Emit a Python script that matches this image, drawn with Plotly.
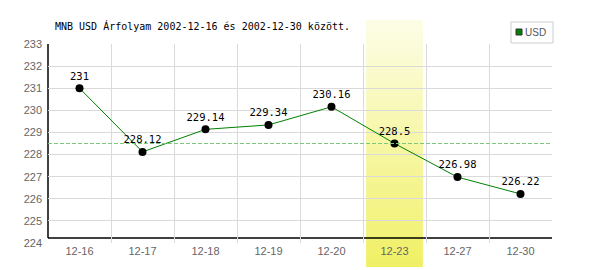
import plotly.graph_objects as go

# ---- data ----
categories = ["12-16", "12-17", "12-18", "12-19", "12-20", "12-23", "12-27", "12-30"]
usd_values = [231, 228.12, 229.14, 229.34, 230.16, 228.5, 226.98, 226.22]
value_labels = ["231", "228.12", "229.14", "229.34", "230.16", "228.5", "226.98", "226.22"]
highlight_category = "12-23"
y_ticks = [224, 225, 226, 227, 228, 229, 230, 231, 232, 233]
title_text = "MNB USD Árfolyam 2002-12-16 és 2002-12-30 között."
series_name = "USD"

# ---- layout geometry ----
W, H = 600, 270
L, R, T, B = 48, 48, 44, 27
plot_w = W - L - R
plot_h = H - T - B

def px_x(px):
    return (px - L) / plot_w

def px_y(py):
    return (H - B - py) / plot_h

fig = go.Figure()

n_cat = len(categories)
hi = categories.index(highlight_category)

# reference dashed line at highlighted value
fig.add_trace(go.Scatter(
    x=[-0.5, n_cat - 0.5], y=[usd_values[hi]] * 2, xaxis="x2", mode="lines",
    line=dict(color="#7cc87c", width=1, dash="4px,2px"),
    hoverinfo="skip", showlegend=False,
))

fig.add_trace(go.Scatter(
    x=categories, y=usd_values, mode="lines+markers+text",
    name=series_name,
    line=dict(color="#008000", width=1),
    marker=dict(color="black", size=8),
    text=value_labels, textposition="top center",
    textfont=dict(family="DejaVu Sans Mono", size=10.5, color="black"),
    cliponaxis=False, showlegend=False,
))

shapes = []
# highlight band with vertical gradient
bx0 = (hi + 0.05) / n_cat
bx1 = (hi + 0.95) / n_cat
by_top = px_y(20)
by_bot = px_y(267)
top_c = (253, 253, 232)
bot_c = (240, 240, 100)
N = 124
for i in range(N):
    f = (i + 0.5) / N
    c = tuple(int(round(top_c[k] + (bot_c[k] - top_c[k]) * f)) for k in range(3))
    y_hi = by_top + (by_bot - by_top) * i / N
    y_lo = max(by_top + (by_bot - by_top) * (i + 1.3) / N, by_bot)
    shapes.append(dict(type="rect", xref="paper", yref="paper",
                       x0=bx0, x1=bx1, y0=y_lo, y1=y_hi,
                       line=dict(width=0), fillcolor="rgb(%d,%d,%d)" % c,
                       layer="between"))

# axis lines
ax_y = px_y(238)
shapes.append(dict(type="line", xref="paper", yref="paper", x0=0, x1=1,
                   y0=ax_y, y1=ax_y, line=dict(color="black", width=1.5),
                   layer="between"))
shapes.append(dict(type="line", xref="paper", yref="paper", x0=0, x1=0,
                   y0=ax_y, y1=1, line=dict(color="black", width=1.5),
                   layer="between"))
# legend box
shapes.append(dict(type="rect", xref="paper", yref="paper",
                   x0=px_x(511), x1=px_x(553), y0=px_y(43), y1=px_y(22),
                   line=dict(color="#cccccc", width=1), fillcolor="white"))
shapes.append(dict(type="rect", xref="paper", yref="paper",
                   x0=px_x(516), x1=px_x(522), y0=px_y(35), y1=px_y(29),
                   line=dict(color="#333333", width=1), fillcolor="#008000"))

annotations = [
    dict(text=title_text, xref="paper", yref="paper", x=px_x(53), y=px_y(26),
         xanchor="left", yanchor="middle", showarrow=False,
         font=dict(family="DejaVu Sans Mono", size=10, color="black")),
    dict(text=series_name, xref="paper", yref="paper", x=px_x(523), y=px_y(32.5),
         xanchor="left", yanchor="middle", showarrow=False,
         font=dict(family="Liberation Sans", size=10, color="#555555")),
]

fig.update_layout(
    width=W, height=H,
    margin=dict(l=L, r=R, t=T, b=B, pad=0),
    paper_bgcolor="white", plot_bgcolor="white",
    shapes=shapes, annotations=annotations,
    showlegend=False,
    xaxis=dict(type="category", categoryorder="array", categoryarray=categories,
               range=[-0.5, n_cat - 0.5], tickson="boundaries",
               showgrid=True, gridcolor="#dadada", gridwidth=1,
               showline=False, zeroline=False, ticks="",
               tickfont=dict(family="Liberation Sans", size=11, color="#666666"),
               ticklabelstandoff=0, fixedrange=True),
    xaxis2=dict(overlaying="x", range=[-0.5, n_cat - 0.5], visible=False,
                fixedrange=True),
    yaxis=dict(range=[y_ticks[0], y_ticks[-1]], tickvals=y_ticks,
               showgrid=True, gridcolor="#dadada", gridwidth=1,
               showline=False, zeroline=False, ticks="",
               tickfont=dict(family="Liberation Sans", size=11, color="#666666"),
               ticklabelstandoff=5, fixedrange=True),
)

fig.write_html("out.html")
